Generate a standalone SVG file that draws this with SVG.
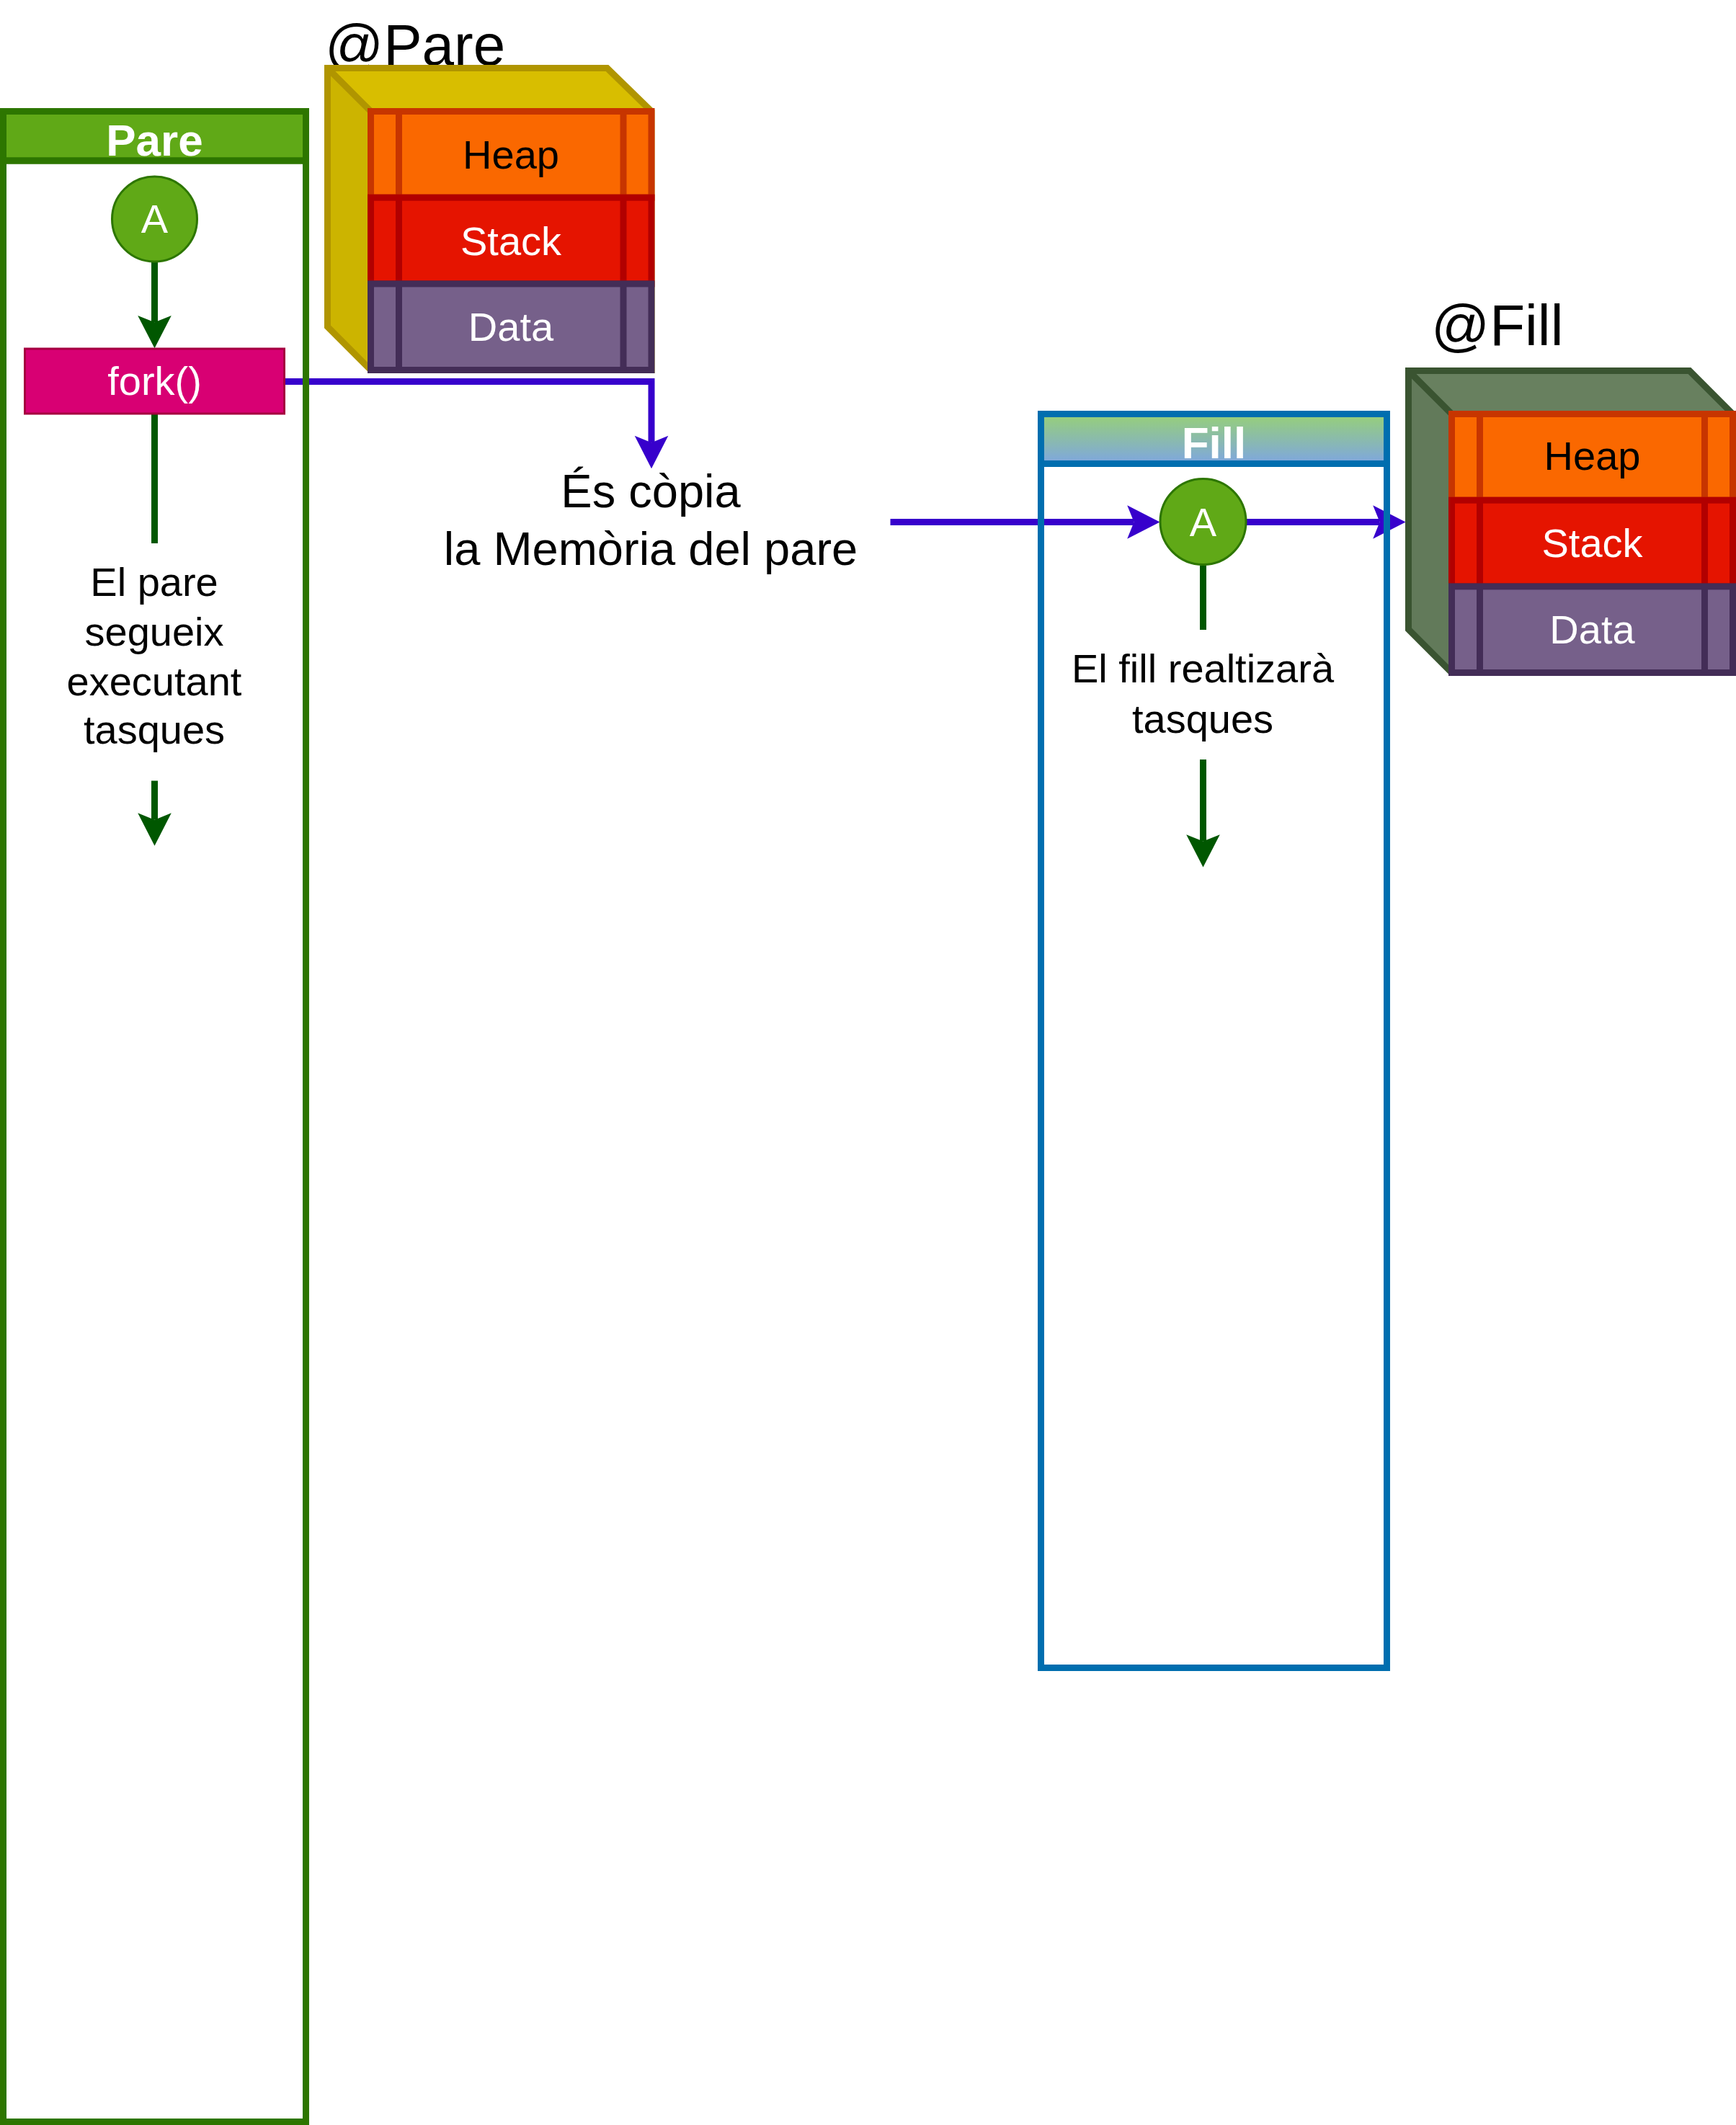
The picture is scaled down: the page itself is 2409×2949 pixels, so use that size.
<svg xmlns="http://www.w3.org/2000/svg" width="2409" height="2949" viewBox="0 0 2409 2949">
<style>
  text { font-family: "Liberation Sans", Arial, Helvetica, sans-serif; }
  .t56 { font-size: 56px; text-anchor: middle; }
  .blk { fill: #000000; }
  .wht { fill: #ffffff; }
  .hdr { font-size: 62px; font-weight: bold; fill: #ffffff; text-anchor: middle; }
  .big { font-size: 80px; fill: #000000; }
  .lbl { font-size: 65px; fill: #000000; text-anchor: middle; }
  .g { fill: none; stroke: #005700; stroke-width: 9; }
  .b { fill: none; stroke: #3700CC; stroke-width: 9; }
  .heap { fill: #FA6800; stroke: #C73500; stroke-width: 9; }
  .heapl { stroke: #C73500; stroke-width: 9; }
  .stack { fill: #E51400; stroke: #B20000; stroke-width: 9; }
  .stackl { stroke: #B20000; stroke-width: 9; }
  .data { fill: #76608A; stroke: #432D57; stroke-width: 9; }
  .datal { stroke: #432D57; stroke-width: 9; }
  .circ { fill: #60A917; stroke: #2D7600; stroke-width: 3; }
</style>
<defs>
  <linearGradient id="fillHdr" x1="0" y1="0" x2="0" y2="1">
    <stop offset="0" stop-color="#97D077"/>
    <stop offset="1" stop-color="#7EA6E0"/>
  </linearGradient>
  <marker id="arrG" markerUnits="userSpaceOnUse" markerWidth="50" markerHeight="50" viewBox="0 -25 50 50" refX="9.4" refY="0" orient="auto" overflow="visible">
    <path d="M0,-23.3 L45.4,0 L0,23.3 L9.4,0 Z" fill="#005700"/>
  </marker>
  <marker id="arrB" markerUnits="userSpaceOnUse" markerWidth="50" markerHeight="50" viewBox="0 -25 50 50" refX="9.4" refY="0" orient="auto" overflow="visible">
    <path d="M0,-23.3 L45.4,0 L0,23.3 L9.4,0 Z" fill="#3700CC"/>
  </marker>
</defs>
<rect x="0" y="0" width="2409" height="2949" fill="#ffffff"/>

<g id="connectors">
  <path class="g" d="M214.5,364 V447.3" marker-end="url(#arrG)"/>
  <path class="g" d="M214.5,574 V754"/>
  <path class="g" d="M214.5,1083.5 V1137.7" marker-end="url(#arrG)"/>
  <path class="b" d="M394.5,529.5 H904 V614.2" marker-end="url(#arrB)"/>
  <path class="b" d="M1235.5,724.5 H1573.6" marker-end="url(#arrB)"/>
  <path class="b" d="M1729.5,724.5 H1914.6" marker-end="url(#arrB)"/>
  <path class="g" d="M1669.5,784.5 V874"/>
  <path class="g" d="M1669.5,1054 V1167.6" marker-end="url(#arrG)"/>
</g>

<g id="lane-pare">
  <rect x="4.5" y="154.5" width="420" height="68.5" fill="#60A917" stroke="#2D7600" stroke-width="9"/>
  <rect x="4.5" y="223" width="420" height="2721.5" fill="none" stroke="#2D7600" stroke-width="9"/>
  <text class="hdr" x="214.5" y="216">Pare</text>
</g>

<g id="lane-fill">
  <rect x="1444.5" y="574.5" width="480" height="69" fill="url(#fillHdr)" stroke="#006EAF" stroke-width="9"/>
  <rect x="1444.5" y="643.5" width="480" height="1671" fill="none" stroke="#006EAF" stroke-width="9"/>
  <text class="hdr" x="1684.5" y="636">Fill</text>
</g>

<g id="pare-start">
  <circle class="circ" cx="214.5" cy="304" r="59"/>
  <text class="t56 wht" x="214.5" y="323">A</text>
</g>

<g id="fork">
  <rect x="34.5" y="484" width="360" height="90" fill="#D80073" stroke="#A50040" stroke-width="3"/>
  <text class="t56 wht" x="214.5" y="548">fork()</text>
</g>

<g id="pare-label">
  <text class="t56 blk" x="214" y="826.6">El pare</text>
  <text class="t56 blk" x="214" y="895.5">segueix</text>
  <text class="t56 blk" x="214" y="964.5">executant</text>
  <text class="t56 blk" x="214" y="1031.6">tasques</text>
</g>

<g id="copy-label">
  <text class="lbl" x="903" y="704">És còpia</text>
  <text class="lbl" x="903" y="784">la Memòria del pare</text>
</g>

<g id="fill-start">
  <circle class="circ" cx="1669.5" cy="724" r="59.5"/>
  <text class="t56 wht" x="1669.5" y="743.5">A</text>
</g>

<g id="fill-label">
  <text class="t56 blk" x="1669" y="946.7">El fill realtizarà</text>
  <text class="t56 blk" x="1669" y="1016.7">tasques</text>
</g>

<g id="mem-pare">
  <text class="big" x="451" y="89.5">@Pare</text>
  <polygon points="454.5,94.5 842.5,94.5 904,154.5 514.5,154.5" fill="#D8BE00"/>
  <polygon points="454.5,94.5 514.5,154.5 514.5,513.5 454.5,453.5" fill="#CCB400"/>
  <path d="M454.5,94.5 L842.5,94.5 L904,154.5 L904,513.5 L514.5,513.5 L454.5,453.5 Z M454.5,94.5 L514.5,154.5" fill="none" stroke="#B09500" stroke-width="9" stroke-linejoin="miter"/>
  <rect class="heap" x="514.5" y="154.5" width="389.5" height="119.7"/>
  <line class="heapl" x1="553.5" y1="154.5" x2="553.5" y2="274.2"/>
  <line class="heapl" x1="865" y1="154.5" x2="865" y2="274.2"/>
  <rect class="stack" x="514.5" y="274.2" width="389.5" height="119.7"/>
  <line class="stackl" x1="553.5" y1="274.2" x2="553.5" y2="393.9"/>
  <line class="stackl" x1="865" y1="274.2" x2="865" y2="393.9"/>
  <rect class="data" x="514.5" y="393.9" width="389.5" height="119.6"/>
  <line class="datal" x1="553.5" y1="393.9" x2="553.5" y2="513.5"/>
  <line class="datal" x1="865" y1="393.9" x2="865" y2="513.5"/>
  <text class="t56 blk" x="709" y="234">Heap</text>
  <text class="t56 wht" x="709" y="353.5">Stack</text>
  <text class="t56 wht" x="709" y="473">Data</text>
</g>

<g id="mem-fill">
  <text class="big" x="1986" y="478.5">@Fill</text>
  <polygon points="1954.5,514.5 2344.5,514.5 2404.5,574.5 2014.5,574.5" fill="#68805F"/>
  <polygon points="1954.5,514.5 2014.5,574.5 2014.5,933.5 1954.5,873.5" fill="#627A5A"/>
  <path d="M1954.5,514.5 L2344.5,514.5 L2404.5,574.5 L2404.5,933.5 L2014.5,933.5 L1954.5,873.5 Z M1954.5,514.5 L2014.5,574.5" fill="none" stroke="#3A5431" stroke-width="9"/>
  <rect class="heap" x="2014.5" y="574.5" width="390" height="119.7"/>
  <line class="heapl" x1="2053.5" y1="574.5" x2="2053.5" y2="694.2"/>
  <line class="heapl" x1="2365.5" y1="574.5" x2="2365.5" y2="694.2"/>
  <rect class="stack" x="2014.5" y="694.2" width="390" height="119.7"/>
  <line class="stackl" x1="2053.5" y1="694.2" x2="2053.5" y2="813.9"/>
  <line class="stackl" x1="2365.5" y1="694.2" x2="2365.5" y2="813.9"/>
  <rect class="data" x="2014.5" y="813.9" width="390" height="119.6"/>
  <line class="datal" x1="2053.5" y1="813.9" x2="2053.5" y2="933.5"/>
  <line class="datal" x1="2365.5" y1="813.9" x2="2365.5" y2="933.5"/>
  <text class="t56 blk" x="2209.5" y="651.7">Heap</text>
  <text class="t56 wht" x="2209.5" y="773">Stack</text>
  <text class="t56 wht" x="2209.5" y="892.7">Data</text>
</g>
</svg>
